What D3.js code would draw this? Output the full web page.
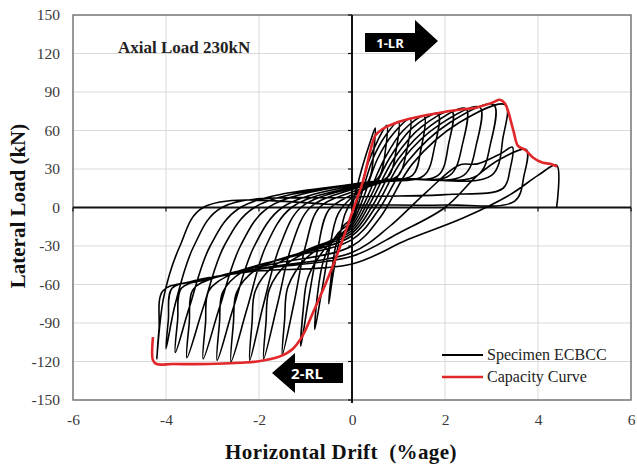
<!DOCTYPE html>
<html><head><meta charset="utf-8">
<script src="https://cdn.jsdelivr.net/npm/d3@7"></script>
<style>body{margin:0;background:#fff}svg{display:block}</style>
</head><body>
<svg id="c" width="637" height="466"></svg>
<script>
const xTicks = [-6,-4,-2,0,2,4,6];
const yTicks = [-150,-120,-90,-60,-30,0,30,60,90,120,150];
const seriesNames = ["Specimen ECBCC","Capacity Curve"];
const capacityCurve = [[-4.28,-101],[-4.28,-119],[-4.2,-122],[-3.85,-122],[-3.1,-122],[-2.4,-121],[-2.04,-120],[-1.55,-116],[-1.27,-110],[-1.05,-99],[-0.84,-82],[-0.54,-57],[-0.26,-31],[0.02,-2],[0.24,21],[0.4,45],[0.5,56],[0.65,61],[1.03,67],[1.61,72],[2.26,76],[2.69,78],[3.04,82],[3.18,84],[3.29,81],[3.47,60],[3.57,48],[3.72,45],[3.89,39],[4.09,35],[4.26,34],[4.41,32]];
const cycle1 = [[0,0],[0.1,15],[0.25,35],[0.4,52],[0.5,62],[0.47,45],[0.4,25],[0.2,12],[0,5],[-0.15,-5],[-0.3,-30],[-0.42,-55],[-0.5,-75],[-0.45,-55],[-0.35,-30],[-0.2,-15],[0,-8]];
const cycle2 = [[0,-8],[0.15,10],[0.35,35],[0.55,52],[0.75,64],[0.72,45],[0.6,25],[0.3,15],[0,8],[-0.3,-5],[-0.5,-35],[-0.65,-65],[-0.8,-95],[-0.75,-70],[-0.6,-40],[-0.3,-20],[0,-10]];
const cycle3 = [[0,-10],[0.2,10],[0.45,38],[0.7,55],[1.0,67],[0.95,45],[0.8,25],[0.4,17],[0,10],[-0.5,-2],[-0.75,-35],[-0.95,-75],[-1.1,-108],[-1.05,-80],[-0.95,-55],[-0.6,-33],[0,-12]];
const cycle4 = [[0,-12],[0.25,8],[0.55,38],[0.9,58],[1.25,69],[1.18,45],[1.0,25],[0.5,18],[0,12],[-0.7,0],[-1.0,-30],[-1.25,-75],[-1.5,-115],[-1.45,-88],[-1.38,-62],[-1.0,-40],[-0.5,-27],[0,-14]];
const cycle5 = [[0,-14],[0.3,6],[0.7,38],[1.1,60],[1.55,71],[1.48,45],[1.3,25],[0.6,20],[0,14],[-0.9,0],[-1.3,-30],[-1.6,-75],[-1.9,-118],[-1.85,-90],[-1.78,-64],[-1.4,-44],[-0.7,-30],[0,-16]];
const cycle6 = [[0,-16],[0.35,5],[0.8,38],[1.3,62],[1.85,73],[1.78,48],[1.55,25],[0.7,20],[0,15],[-1.1,0],[-1.55,-30],[-1.9,-75],[-2.2,-119],[-2.15,-90],[-2.08,-65],[-1.7,-46],[-0.9,-32],[0,-18]];
const cycle7 = [[0,-18],[0.4,4],[0.9,38],[1.5,63],[2.15,75],[2.08,50],[1.85,25],[0.8,22],[0,16],[-1.3,0],[-1.85,-30],[-2.25,-78],[-2.6,-120],[-2.55,-90],[-2.48,-66],[-2.05,-48],[-1.1,-35],[0,-20]];
const cycle8 = [[0,-20],[0.45,2],[1.0,38],[1.7,64],[2.45,77],[2.38,50],[2.1,25],[0.9,22],[0,17],[-1.5,0],[-2.1,-30],[-2.55,-78],[-2.9,-119],[-2.85,-90],[-2.78,-66],[-2.35,-50],[-1.3,-38],[0,-22]];
const cycle9 = [[0,-22],[0.5,0],[1.1,38],[1.9,65],[2.75,78],[2.68,50],[2.4,25],[1.0,22],[0,18],[-1.8,0],[-2.4,-30],[-2.85,-78],[-3.2,-118],[-3.15,-90],[-3.08,-65],[-2.6,-52],[-1.5,-40],[0,-25]];
const cycle10 = [[0,-25],[0.55,-3],[1.2,36],[2.1,66],[3.05,80],[2.98,50],[2.7,25],[1.1,22],[0,18],[-2.1,0],[-2.75,-30],[-3.2,-78],[-3.55,-117],[-3.5,-90],[-3.42,-64],[-2.9,-54],[-1.7,-44],[0,-30]];
const cycle11 = [[0,-30],[0.6,-8],[1.3,34],[2.3,66],[3.3,80],[3.25,55],[3.0,25],[1.2,22],[0,18],[-2.4,0],[-3.05,-30],[-3.5,-78],[-3.8,-113],[-3.75,-88],[-3.67,-63],[-3.1,-56],[-1.9,-47],[0,-35]];
const cycle12 = [[0,-35],[0.8,-15],[1.6,12],[2.3,33],[2.7,34],[3.2,42],[3.45,47],[3.4,30],[3.25,15],[2.0,10],[0,8],[-2.8,0],[-3.4,-30],[-3.8,-75],[-4.0,-110],[-3.95,-88],[-3.87,-63],[-3.3,-57],[-2.0,-48],[0,-38]];
const cycle13 = [[0,-38],[1.0,-20],[2.0,0],[2.7,25],[3.2,38],[3.75,45],[3.7,25],[3.5,5],[2.0,2],[0,2],[-3.2,0],[-3.7,-30],[-4.05,-70],[-4.2,-118],[-4.15,-95],[-4.07,-65],[-3.5,-58],[-2.2,-50],[0,-44]];
const cycle14 = [[0,-44],[1.2,-25],[2.4,-8],[3.4,10],[4.0,25],[4.4,33],[4.4,0]];
const specimenCycles = [cycle1,cycle2,cycle3,cycle4,cycle5,cycle6,cycle7,cycle8,cycle9,cycle10,cycle11,cycle12,cycle13,cycle14];

const svg = d3.select("#c");
const L=73, R=631, T=15, B=400;
const x = d3.scaleLinear().domain([-6,6]).range([L,R]);
const y = d3.scaleLinear().domain([-150,150]).range([B,T]);
const serif = "'Liberation Serif','Times New Roman',serif";
const fmt = d => String(d);

// grid
svg.append("g").selectAll("line").data(yTicks).join("line")
  .attr("x1",L).attr("x2",R).attr("y1",d=>y(d)).attr("y2",d=>y(d))
  .attr("stroke","#d9d9d9").attr("stroke-width",1);
svg.append("g").selectAll("line").data(xTicks).join("line")
  .attr("y1",T).attr("y2",B).attr("x1",d=>x(d)).attr("x2",d=>x(d))
  .attr("stroke","#d9d9d9").attr("stroke-width",1);

// axes tick labels
const ax = svg.append("g").attr("transform",`translate(0,${B})`)
  .call(d3.axisBottom(x).tickValues(xTicks).tickFormat(fmt).tickSize(0).tickPadding(14));
ax.select(".domain").remove();
ax.selectAll("text").attr("font-family",serif).attr("font-size",15.5).attr("fill","#3a3a3a");
const ay = svg.append("g").attr("transform",`translate(${L},0)`)
  .call(d3.axisLeft(y).tickValues(yTicks).tickFormat(fmt).tickSize(0).tickPadding(13));
ay.select(".domain").remove();
ay.selectAll("text").attr("font-family",serif).attr("font-size",15.5).attr("fill","#3a3a3a");

// plot border
svg.append("rect").attr("x",L).attr("y",T).attr("width",R-L).attr("height",B-T)
  .attr("fill","none").attr("stroke","#7a7a7a").attr("stroke-width",1.5);

// zero axes
svg.append("line").attr("x1",L).attr("x2",R).attr("y1",y(0)).attr("y2",y(0)).attr("stroke","#111").attr("stroke-width",2);
svg.append("line").attr("x1",x(0)).attr("x2",x(0)).attr("y1",T).attr("y2",B+3).attr("stroke","#111").attr("stroke-width",2);
svg.append("g").selectAll("line").data(yTicks.filter(d=>d!==0)).join("line")
  .attr("x1",x(0)-4).attr("x2",x(0)).attr("y1",d=>y(d)).attr("y2",d=>y(d)).attr("stroke","#111").attr("stroke-width",1.2);
svg.append("g").selectAll("line").data(xTicks.filter(d=>d!==0)).join("line")
  .attr("y1",y(0)).attr("y2",y(0)+4).attr("x1",d=>x(d)).attr("x2",d=>x(d)).attr("stroke","#111").attr("stroke-width",1.2);

// hysteresis
const line = d3.line().x(d=>x(d[0])).y(d=>y(d[1])).curve(d3.curveCatmullRom.alpha(0.5));
const allPts = specimenCycles.reduce((a,c,i)=>a.concat(i?c.slice(1):c),[]);
svg.append("path").attr("d",line(allPts)).attr("fill","none").attr("stroke","#000").attr("stroke-width",1.6).attr("stroke-linejoin","round");
svg.append("path").attr("d",line(capacityCurve)).attr("fill","none").attr("stroke","#e2272b").attr("stroke-width",2.6).attr("stroke-linejoin","round");

// annotation text
svg.append("text").attr("x",118).attr("y",53).attr("font-family",serif).attr("font-weight","bold").attr("font-size",17).attr("fill","#222").text("Axial Load 230kN");

// arrows
function arrow(pts){ return d3.line()(pts)+"Z"; }
svg.append("path").attr("d",arrow([[365,33],[415,33],[415,20],[438,41],[415,62],[415,52],[365,52]])).attr("fill","#000");
svg.append("text").attr("x",390).attr("y",48).attr("text-anchor","middle").attr("font-family","'Open Sans',sans-serif").attr("font-weight","bold").attr("font-size",13).attr("fill","#fff").text("1-LR");
svg.append("path").attr("d",arrow([[343,363],[343,383],[295,383],[295,393],[272,373],[295,353],[295,363]])).attr("fill","#000");
svg.append("text").attr("x",307).attr("y",379).attr("text-anchor","middle").attr("font-family","'Open Sans',sans-serif").attr("font-weight","bold").attr("font-size",15).attr("fill","#fff").text("2-RL");

// legend
const legColors = ["#000","#e2272b"];
const lg = svg.append("g");
seriesNames.forEach((n,i)=>{
  const yy = 355 + i*22;
  lg.append("line").attr("x1",442).attr("x2",483).attr("y1",yy).attr("y2",yy).attr("stroke",legColors[i]).attr("stroke-width",i?2.6:2);
  lg.append("text").attr("x",487).attr("y",yy+5).attr("font-family",serif).attr("font-size",16).attr("fill","#222").text(n);
});

// axis titles
svg.append("text").attr("transform","translate(25,206) rotate(-90)").attr("text-anchor","middle")
  .attr("font-family",serif).attr("font-weight","bold").attr("font-size",21).attr("fill","#111").text("Lateral Load (kN)");
svg.append("text").attr("x",341).attr("y",459).attr("text-anchor","middle").attr("xml:space","preserve")
  .attr("font-family",serif).attr("font-weight","bold").attr("font-size",21).attr("letter-spacing",0.4).attr("fill","#111").text("Horizontal Drift  (%age)");
</script>
</body></html>
